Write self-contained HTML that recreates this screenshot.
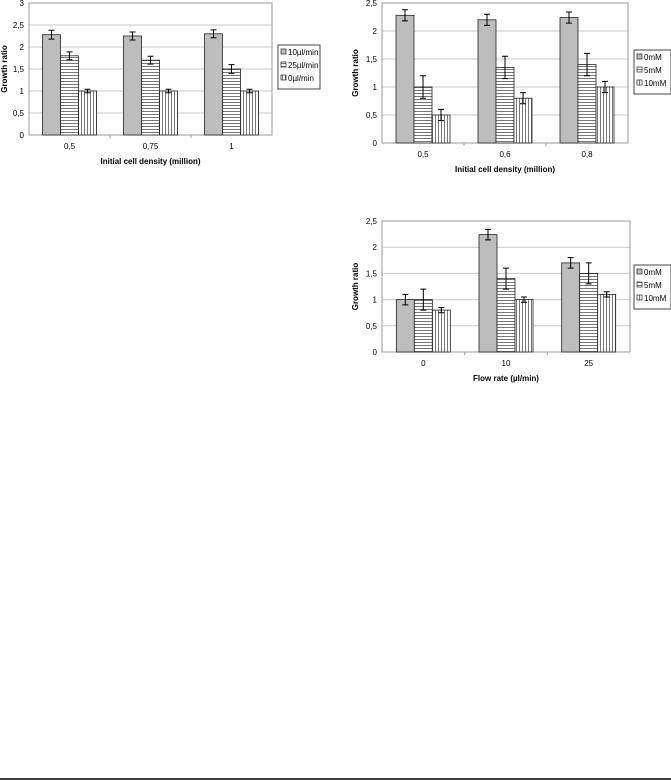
<!DOCTYPE html>
<html><head><meta charset="utf-8">
<style>
body{margin:0;background:#fff;width:671px;height:780px;overflow:hidden;font-family:"Liberation Sans",sans-serif}
svg{position:absolute;left:0;top:0}
</style></head>
<body>
<svg id="s" width="671" height="780">
<defs>
<pattern id="hz" width="4" height="3" patternUnits="userSpaceOnUse"><rect width="4" height="3" fill="#fff"/><line x1="0" y1="0.5" x2="4" y2="0.5" stroke="#777" stroke-width="1"/></pattern>
<pattern id="vt" width="3" height="4" patternUnits="userSpaceOnUse"><rect width="3" height="4" fill="#fff"/><line x1="0.5" y1="0" x2="0.5" y2="4" stroke="#777" stroke-width="1"/></pattern>
</defs>
<line x1="0" y1="779" x2="671" y2="779" stroke="#000" stroke-width="1.5"/>
</svg>
<script>
const c1Cats=["0,5","0,75","1"];
const c1Series=["10µl/min","25µl/min","0µl/min"];
const c1Vals=[[2.28,2.25,2.3],[1.8,1.7,1.5],[1.0,1.0,1.0]];
const c1Errs=[[0.1,0.09,0.09],[0.09,0.09,0.1],[0.04,0.04,0.04]];
const c1Ticks=["0","0,5","1","1,5","2","2,5","3"];

const c2Cats=["0,5","0,6","0,8"];
const c2Series=["0mM","5mM","10mM"];
const c2Vals=[[2.28,2.2,2.24],[1.0,1.35,1.4],[0.5,0.8,1.0]];
const c2Errs=[[0.1,0.1,0.1],[0.2,0.2,0.2],[0.1,0.1,0.1]];
const c2Ticks=["0","0,5","1","1,5","2","2,5"];

const c3Cats=["0","10","25"];
const c3Series=["0mM","5mM","10mM"];
const c3Vals=[[1.0,2.24,1.7],[1.0,1.4,1.5],[0.8,1.0,1.1]];
const c3Errs=[[0.1,0.1,0.1],[0.2,0.2,0.2],[0.05,0.05,0.05]];
const c3Ticks=["0","0,5","1","1,5","2","2,5"];

const NS="http://www.w3.org/2000/svg";
const svg=document.getElementById('s');
const fills=["#bdbdbd","url(#hz)","url(#vt)"];
function mk(tag,at,parent){const e=document.createElementNS(NS,tag);for(const k in at)e.setAttribute(k,at[k]);(parent||svg).appendChild(e);return e;}
function txt(x,y,s,at,parent){const e=mk('text',Object.assign({x:x,y:y,'font-size':8,fill:'#000'},at),parent);e.textContent=s;return e;}

function chart(id,g,cats,series,vals,errs,ticks,maxV,xTitle){
  const grp=mk('g',{});
  
  
  const yS=v=>g.b-(v/maxV)*(g.b-g.t);
  const catW=(g.r-g.l)/cats.length;
  const bw=18;
  ticks.forEach((t,i)=>{
    const v=i*0.5,y=yS(v);
    if(i>0){const gl=mk('line',{x1:g.l,x2:g.r,y1:y,y2:y,stroke:'#c8c8c8'},grp);
    
    }
    const tl=txt(g.l-5,y+3,t,{'text-anchor':'end'},grp);
    
    
  });
  const pb=mk('rect',{x:g.l,y:g.t,width:g.r-g.l,height:g.b-g.t,fill:'none',stroke:'#999'},grp);
  
  
  cats.forEach((c,ci)=>{
    const x0=g.l+ci*catW+(catW-bw*series.length)/2;
    series.forEach((s,si)=>{
      const v=vals[si][ci],e=errs[si][ci];
      const x=x0+si*bw,y=yS(v);
      const r=mk('rect',{x:x,y:y,width:bw,height:g.b-y,fill:fills[si],stroke:'#222','stroke-width':0.8},grp);
      
      
      const cx=x+bw/2,y1=yS(v+e),y2=yS(v-e);
      const eb=mk('path',{d:`M${cx},${y1}V${y2}M${cx-3},${y1}H${cx+3}M${cx-3},${y2}H${cx+3}`,stroke:'#000','stroke-width':1,fill:'none'},grp);
      
      
    });
    const xl=txt(g.l+ci*catW+catW/2,g.b+14,c,{'text-anchor':'middle'},grp);
    
    
    if(ci>0){mk('line',{x1:g.l+ci*catW,x2:g.l+ci*catW,y1:g.b,y2:g.b+3,stroke:'#999'},grp);}
  });
  const xt=txt((g.l+g.r)/2,g.b+29,xTitle,{'text-anchor':'middle','font-weight':'bold'},grp);
  
  
  const yc=(g.t+g.b)/2;
  const yt=txt(g.yt,yc,'Growth ratio',{'text-anchor':'middle','font-weight':'bold',transform:`rotate(-90 ${g.yt} ${yc})`},grp);
  
  
  const lg=mk('rect',{x:g.lx,y:g.ly,width:g.lw,height:44,fill:'#fff',stroke:'#444'},grp);
  
  
  series.forEach((s,si)=>{
    const y=g.ly+8+si*13;
    mk('rect',{x:g.lx+3,y:y-4,width:5,height:5,fill:fills[si],stroke:'#222','stroke-width':0.7},grp);
    const le=txt(g.lx+10,y+2,s,{},grp);
    
    
  });
}
chart('chart-cell-density-flow',{l:29,r:272,t:3,b:135,yt:7,lx:278,ly:45,lw:42},c1Cats,c1Series,c1Vals,c1Errs,c1Ticks,3,'Initial cell density (million)');
chart('chart-cell-density-conc',{l:382,r:628,t:3,b:143,yt:358,lx:634,ly:50,lw:37},c2Cats,c2Series,c2Vals,c2Errs,c2Ticks,2.5,'Initial cell density (million)');
chart('chart-flow-rate-conc',{l:382,r:630,t:221,b:352,yt:358,lx:634,ly:265,lw:37},c3Cats,c3Series,c3Vals,c3Errs,c3Ticks,2.5,'Flow rate (µl/min)');
</script>
</body></html>
